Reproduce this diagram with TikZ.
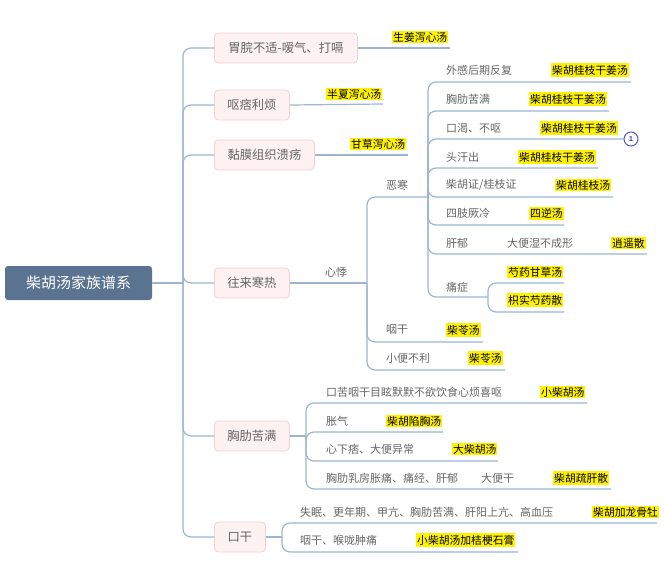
\documentclass[tikz,border=0pt]{standalone}
\usepackage{fontspec}
\setmainfont{Noto Sans CJK SC}
\definecolor{ln}{HTML}{9DB5D3}
\definecolor{tg}{HTML}{666666}
\definecolor{rootc}{HTML}{5A7391}
\definecolor{pinkf}{HTML}{FDF1F1}
\definecolor{pinkd}{HTML}{F2D0D0}
\definecolor{markc}{HTML}{5555D0}
\begin{document}
\begin{tikzpicture}[x=1pt,y=-1pt,
  conn/.style={draw=ln,line width=1.2pt,rounded corners=8pt},
  rootbox/.style={fill=rootc,rounded corners=3pt,text=white,minimum width=147pt,minimum height=34pt,inner sep=0pt,font=\fontsize{15}{17}\selectfont},
  topic/.style={anchor=west,fill=pinkf,draw=pinkd,line width=0.8pt,rounded corners=4pt,text=tg,minimum height=30pt,inner sep=0pt,font=\fontsize{12.3}{14}\selectfont},
  txt/.style={anchor=west,inner sep=0pt,text=tg,font=\fontsize{11}{13}\selectfont},
  hl/.style={anchor=west,inner xsep=1pt,inner ysep=1.5pt,fill=yellow,text=black,font=\fontsize{10.8}{13}\selectfont},
  markbox/.style={circle,draw=markc,line width=1pt,minimum size=14pt,inner sep=0pt,text=markc,font=\fontsize{7}{8}\selectfont\bfseries}]
\useasboundingbox (0,0) rectangle (664,568);

% root and level-1 topics
\node[rootbox] (root) at (78.5,283) {柴胡汤家族谱系};
\coordinate (trunk) at (183,283);
\node[topic,minimum width=143pt] (A) at (214,48) {胃脘不适-嗳气、打嗝};
\node[topic,minimum width=75pt] (B) at (214,105) {呕痞利烦};
\node[topic,minimum width=100pt] (C) at (214,155) {黏膜组织溃疡};
\node[topic,minimum width=75pt] (D) at (214,283) {往来寒热};
\node[topic,minimum width=75pt] (E) at (214,436) {胸肋苦满};
\node[topic,minimum width=51pt] (F) at (214,537) {口干};

\draw[conn] (root.east) -- (trunk);
\foreach \n in {A,B,C,D,E,F} \draw[conn] (trunk) |- (\n.west);

% level-1 leaves
\coordinate (Ae) at (450,48);
\draw[conn] (A.east) -- (Ae);
\node[hl] (Ah) at (392,37) {生姜泻心汤};
\coordinate (Be) at (383,104);
\draw[conn] (B.east) -- (Be);
\node[hl] (Bh) at (326,94) {半夏泻心汤};
\coordinate (Ce) at (408,155);
\draw[conn] (C.east) -- (Ce);
\node[hl] (Ch) at (350,144) {甘草泻心汤};

% 往来寒热 -> 心悸
\coordinate (Dj) at (367,283);
\draw[conn] (D.east) -- (Dj);
\node[txt] (xinji) at (325,272) {心悸};
\coordinate (ehE) at (428,197);
\coordinate (ygE) at (483,342);
\coordinate (xbE) at (505,370);
\draw[conn] (Dj) |- (ehE);
\draw[conn] (Dj) |- (ygE);
\draw[conn] (Dj) |- (xbE);
\node[txt] (eh) at (386,185) {恶寒};
\node[txt] (yg) at (386,330) {咽干};
\node[hl] (ygh) at (446,330) {柴苓汤};
\node[txt] (xb) at (386,358) {小便不利};
\node[hl] (xbh) at (468,358) {柴苓汤};

% 恶寒 children
\coordinate (c1) at (631,82);
\coordinate (c2) at (609,111);
\coordinate (c3) at (623,139);
\coordinate (c4) at (598,168);
\coordinate (c5) at (613,197);
\coordinate (c6) at (564,225);
\coordinate (c7) at (647,254);
\coordinate (c8) at (488,297);
\foreach \c in {c1,c2,c3,c4,c5,c6,c7,c8} \draw[conn] (ehE) |- (\c);
\node[txt] (t1) at (446,70) {外感后期反复};
\node[hl] (h1) at (551,70) {柴胡桂枝干姜汤};
\node[txt] (t2) at (446,99) {胸肋苦满};
\node[hl] (h2) at (529,99) {柴胡桂枝干姜汤};
\node[txt] (t3) at (446,128) {口渴、不呕};
\node[hl] (h3) at (540,128) {柴胡桂枝干姜汤};
\node[markbox] (m1) at (631,139) {1};
\draw[conn] (c3) -- (m1.west);
\node[txt] (t4) at (446,157) {头汗出};
\node[hl] (h4) at (518,157) {柴胡桂枝干姜汤};
\node[txt] (t5) at (446,185) {柴胡证/桂枝证};
\node[hl] (h5) at (555,185) {柴胡桂枝汤};
\node[txt] (t6) at (446,213) {四肢厥冷};
\node[hl] (h6) at (529,213) {四逆汤};
\node[txt] (t7) at (446,243) {肝郁};
\node[txt] (t7b) at (507,243) {大便湿不成形};
\node[hl] (h7) at (611,243) {逍遥散};
\node[txt] (t8) at (446,287) {痛症};
\coordinate (d1) at (564,283);
\coordinate (d2) at (564,312);
\draw[conn] (c8) |- (d1);
\draw[conn] (c8) |- (d2);
\node[hl] (h8a) at (507,272) {芍药甘草汤};
\node[hl] (h8b) at (507,300) {枳实芍药散};

% 胸肋苦满 children
\coordinate (Ej) at (306,436);
\draw[conn] (E.east) -- (Ej);
\coordinate (e1) at (587,403);
\coordinate (e2) at (443,432);
\coordinate (e3) at (498,461);
\coordinate (e4) at (611,489);
\foreach \c in {e1,e2,e3,e4} \draw[conn] (Ej) |- (\c);
\node[txt] (s1) at (326,392) {口苦咽干目眩默默不欲饮食心烦喜呕};
\node[hl] (g1) at (540,392) {小柴胡汤};
\node[txt] (s2) at (326,421) {胀气};
\node[hl] (g2) at (386,421) {柴胡陷胸汤};
\node[txt] (s3) at (326,449) {心下痞、大便异常};
\node[hl] (g3) at (452,449) {大柴胡汤};
\node[txt] (s4) at (326,478) {胸肋乳房胀痛、痛经、肝郁};
\node[txt] (s4b) at (481,478) {大便干};
\node[hl] (g4) at (553,478) {柴胡疏肝散};

% 口干 children
\coordinate (Fj) at (282,537);
\draw[conn] (F.east) -- (Fj);
\coordinate (f1) at (657,523);
\coordinate (f2) at (518,552);
\draw[conn] (Fj) |- (f1);
\draw[conn] (Fj) |- (f2);
\node[txt] (k1) at (300,512) {失眠、更年期、甲亢、胸肋苦满、肝阳上亢、高血压};
\node[hl] (q1) at (592,512) {柴胡加龙骨牡};
\node[txt] (k2) at (300,540) {咽干、喉咙肿痛};
\node[hl] (q2) at (416,540) {小柴胡汤加桔梗石膏};
\end{tikzpicture}
\end{document}
